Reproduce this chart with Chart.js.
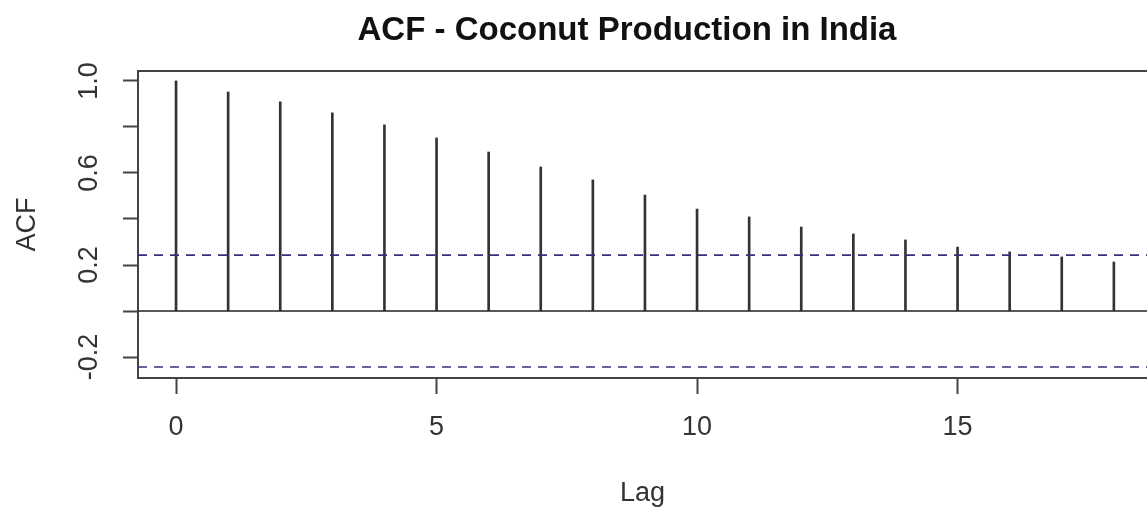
<!DOCTYPE html>
<html>
<head>
<meta charset="utf-8">
<script src="https://cdn.jsdelivr.net/npm/chart.js@4/dist/chart.umd.min.js"></script>
<style>
  html, body { margin: 0; padding: 0; background: #fff; overflow: hidden; }
  #wrap { width: 1254px; height: 510px; }
</style>
</head>
<body>
<div id="wrap"><canvas id="acf" width="1254" height="510"></canvas></div>
<script>
// ACF values, lags 0..18
const lags = [0, 1, 2, 3, 4, 5, 6, 7, 8, 9, 10, 11, 12, 13, 14, 15, 16, 17, 18];
const acf = [1.0, 0.952, 0.909, 0.861, 0.809, 0.752, 0.691, 0.626, 0.570, 0.504,
             0.443, 0.409, 0.365, 0.335, 0.309, 0.278, 0.257, 0.235, 0.213];
const ciBound = 0.243;

const xTicks = [0, 5, 10, 15];
const yTicks = [-0.2, 0, 0.2, 0.4, 0.6, 0.8, 1.0];
const yLabelled = [-0.2, 0.2, 0.6, 1.0];

const xMin = -0.73, xMax = 18.636;
const yMin = -0.291, yMax = 1.043;

const font = 'Liberation Sans, Arial, sans-serif';
const axisCol = '#444';
const ciCol = '#30307e';

new Chart(document.getElementById('acf'), {
  type: 'bar',
  data: {
    datasets: [
      {
        type: 'line',
        data: [{x: xMin, y: ciBound}, {x: xMax, y: ciBound}],
        borderColor: ciCol,
        borderWidth: 1.6,
        borderDash: [9, 7],
        pointRadius: 0
      },
      {
        type: 'line',
        data: [{x: xMin, y: -ciBound}, {x: xMax, y: -ciBound}],
        borderColor: ciCol,
        borderWidth: 1.6,
        borderDash: [9, 7],
        pointRadius: 0
      },
      {
        type: 'line',
        data: [{x: xMin, y: 0}, {x: xMax, y: 0}],
        borderColor: '#222',
        borderWidth: 1.5,
        pointRadius: 0
      },
      {
        data: lags.map((l, i) => ({x: l, y: acf[i]})),
        backgroundColor: '#333',
        barThickness: 2
      }
    ]
  },
  options: {
    responsive: false,
    animation: false,
    devicePixelRatio: 1,
    layout: { padding: 0 },
    plugins: {
      legend: { display: false },
      tooltip: { enabled: false },
      title: {
        display: true,
        text: 'ACF - Coconut Production in India',
        color: '#111',
        font: { family: font, size: 33, weight: 'bold', lineHeight: 1.2 },
        padding: { top: 11, bottom: 20.4 }
      }
    },
    scales: {
      x: {
        type: 'linear',
        position: 'bottom',
        min: xMin,
        max: xMax,
        offset: false,
        afterBuildTicks: s => { s.ticks = xTicks.map(v => ({value: v})); },
        afterFit: s => { s.height = 132; },
        ticks: {
          autoSkip: false,
          maxRotation: 0,
          padding: 17,
          color: '#333',
          font: { family: font, size: 27 },
          callback: v => String(v)
        },
        grid: { offset: false, drawOnChartArea: false, tickLength: 16, tickWidth: 2, tickColor: axisCol },
        border: { display: true, color: axisCol, width: 2 },
        title: {
          display: true,
          text: 'Lag',
          color: '#333',
          font: { family: font, size: 27, lineHeight: 1.2 },
          padding: { top: 0, bottom: 0 }
        }
      },
      x2: {
        type: 'linear',
        axis: 'x',
        position: 'top',
        min: xMin,
        max: xMax,
        offset: false,
        afterFit: s => { s.height = 0; },
        ticks: { display: false },
        grid: { display: false },
        border: { display: true, color: axisCol, width: 2 }
      },
      y: {
        type: 'linear',
        position: 'left',
        min: yMin,
        max: yMax,
        afterBuildTicks: s => { s.ticks = yTicks.map(v => ({value: v})); },
        afterFit: s => { s.width = 138; },
        ticks: {
          autoSkip: false,
          minRotation: 90,
          maxRotation: 90,
          crossAlign: 'center',
          padding: 10,
          color: '#333',
          font: { family: font, size: 27 },
          callback: v => yLabelled.includes(v) ? v.toFixed(1) : ''
        },
        grid: { drawOnChartArea: false, tickLength: 15, tickWidth: 2, tickColor: axisCol },
        border: { display: true, color: axisCol, width: 2 },
        title: {
          display: true,
          text: 'ACF',
          color: '#333',
          font: { family: font, size: 27, lineHeight: 1.2 },
          padding: { top: 11, bottom: 0 }
        }
      },
      yRight: {
        type: 'linear',
        axis: 'y',
        position: 'right',
        min: yMin,
        max: yMax,
        afterFit: s => { s.width = 107; },
        ticks: { display: false },
        grid: { display: false },
        border: { display: false }
      }
    }
  }
});
</script>
</body>
</html>
